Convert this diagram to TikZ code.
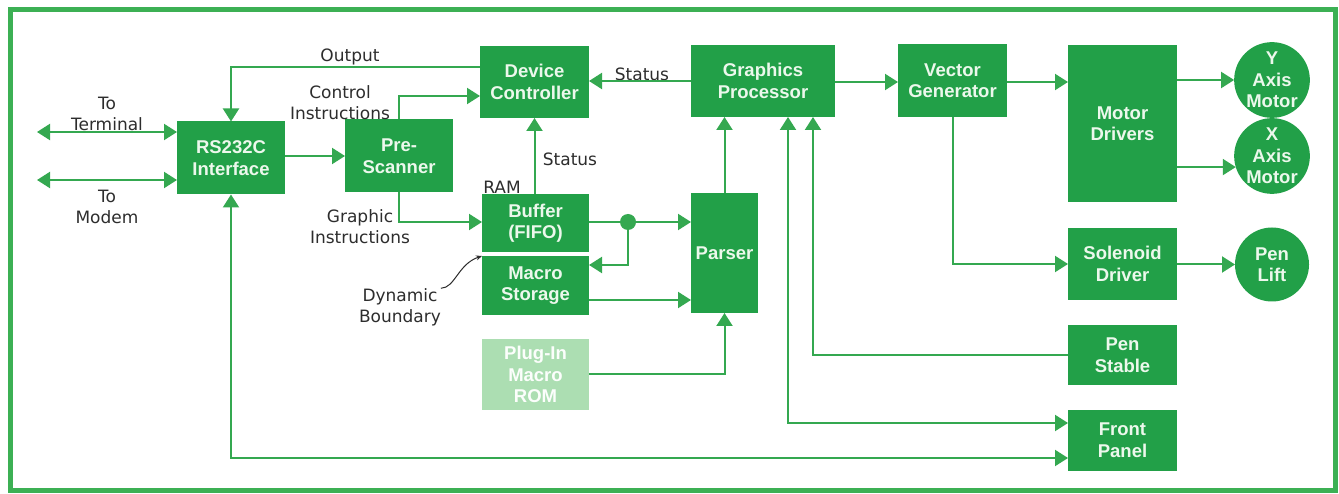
\documentclass[tikz,border=0pt]{standalone}
\usepackage{fontspec}
\setmainfont{DejaVu Sans}
\newfontfamily\boxfont{Liberation Sans}
\usetikzlibrary{arrows.meta,calc}
\definecolor{boxgreen}{RGB}{34,160,72}
\definecolor{linegreen}{RGB}{52,168,80}
\definecolor{framegreen}{RGB}{60,176,84}
\definecolor{romgreen}{RGB}{172,222,178}
\definecolor{boxtext}{RGB}{236,248,236}
\definecolor{labelgray}{RGB}{45,45,45}
\begin{document}
\begin{tikzpicture}[x=1pt,y=-1pt,
  blk/.style={fill=boxgreen, draw=none, text=boxtext, font=\boxfont\bfseries\fontsize{18.5}{21.5}\selectfont, align=center, inner sep=0pt, outer sep=0pt, anchor=center},
  rombox/.style={blk, fill=romgreen, text=white!96!romgreen},
  circ/.style={blk, circle, minimum size=74pt},
  lbl/.style={text=labelgray, font=\fontsize{17}{21}\selectfont, align=center, inner sep=0pt, outer sep=0pt},
  con/.style={draw=linegreen, line width=2pt},
  arr/.style={con, -{Triangle[length=13pt,width=16pt]}},
  darr/.style={con, {Triangle[length=13pt,width=16pt]}-{Triangle[length=13pt,width=16pt]}},
  jdot/.style={circle, fill=linegreen, minimum size=16pt, inner sep=0pt, outer sep=0pt}
]
\useasboundingbox (0,0) rectangle (1339,494);
\fill[white] (0,0) rectangle (1339,494);
\draw[draw=framegreen, line width=5pt] (10,9.5) rectangle (1335.5,490.5);

% boxes
\node[blk, minimum width=108pt, minimum height=73pt] (rs) at (231,158) {RS232C\\Interface};
\node[blk, minimum width=108pt, minimum height=73pt] (pre) at (399,156) {Pre-\\Scanner};
\node[blk, minimum width=109pt, minimum height=72pt] (dc) at (534.5,82) {Device\\Controller};
\node[blk, minimum width=144pt, minimum height=72pt] (gp) at (763,81) {Graphics\\Processor};
\node[blk, minimum width=109pt, minimum height=73pt] (vg) at (952.5,80.5) {Vector\\Generator};
\node[blk, minimum width=109pt, minimum height=157pt] (md) at (1122.5,123.5) {Motor\\Drivers};
\node[blk, minimum width=107pt, minimum height=58pt] (buf) at (535.5,223) {Buffer\\(FIFO)};
\node[blk, minimum width=107pt, minimum height=59pt] (mac) at (535.5,285.5) {Macro\\Storage};
\node[blk, minimum width=67pt, minimum height=120pt] (parser) at (724.5,253) {Parser};
\node[rombox, minimum width=107pt, minimum height=71pt] (rom) at (535.5,374.5) {Plug-In\\Macro\\ROM};
\node[blk, minimum width=109pt, minimum height=72pt] (sol) at (1122.5,264) {Solenoid\\Driver};
\node[blk, minimum width=109pt, minimum height=60pt] (penst) at (1122.5,355) {Pen\\Stable};
\node[blk, minimum width=109pt, minimum height=61pt] (fp) at (1122.5,440) {Front\\Panel};
\node[circ] (ym) at (1272,80) {Y\\Axis\\Motor};
\node[circ] (xm) at (1272,156) {X\\Axis\\Motor};
\node[circ] (pl) at (1272,264.5) {Pen\\Lift};
\node[jdot] (jn) at (628,222) {};

% labels
\node[lbl] (lterm) at (107,114) {To\\Terminal};
\node[lbl] (lmodem) at (107,207) {To\\Modem};
\node[lbl] (lout) at (350,57) {Output};
\node[lbl] (lctrl) at (340,102.5) {Control\\Instructions};
\node[lbl] (lgraph) at (360,226.5) {Graphic\\Instructions};
\node[lbl] (lstat1) at (642,74) {Status};
\node[lbl] (lstat2) at (570,159) {Status};
\node[lbl] (lram) at (502,187) {RAM};
\node[lbl] (ldyn) at (400,307) {Dynamic\\Boundary};

% connectors
\coordinate (tt) at (37,132);
\coordinate (tm) at (37,180);
\draw[darr] (tt) -- (rs.west |- tt);
\draw[darr] (tm) -- (rs.west |- tm);
\draw[arr] (dc.west |- 0,67) -| (rs.north);
\draw[arr] (rs.east |- pre.west) -- (pre.west);
\draw[arr] (pre.north) |- (dc.west |- 0,96);
\draw[arr] (pre.south) |- (buf.west |- 0,222);
\draw[arr] (gp.west) -- (dc.east |- gp.west);
\draw[arr] (dc.south |- buf.north) -- (dc.south);
\draw[con] (buf.east |- jn) -- (jn);
\draw[arr] (jn) -- (parser.west |- jn);
\draw[arr] (jn.center) |- (mac.east |- 0,265);
\draw[arr] (mac.east |- 0,300) -- (parser.west |- 0,300);
\draw[arr] (rom.east |- 0,374) -| (parser.south);
\draw[arr] (parser.north) -- (parser.north |- gp.south);
\draw[arr] (gp.east |- 0,82) -- (vg.west |- 0,82);
\draw[arr] (vg.east |- 0,82) -- (md.west |- 0,82);
\draw[arr] (vg.south) |- (sol.west);
\draw[arr] (md.east |- ym.west) -- (ym.west);
\draw[arr] (md.east |- xm.197) -- (xm.197);
\draw[arr] (sol.east |- pl.west) -- (pl.west);
\draw[arr] (penst.west) -| (gp.south -| 813,0);
\draw[darr] (gp.south -| 788,0) |- (fp.west |- 0,423);
\draw[darr] (rs.south) |- (fp.west |- 0,458);
\draw[draw=labelgray, line width=1pt, -{Stealth[length=6pt,width=5pt]}] (ldyn.north east) .. controls (455,288) and (458,264) .. (mac.north west);
\end{tikzpicture}
\end{document}
